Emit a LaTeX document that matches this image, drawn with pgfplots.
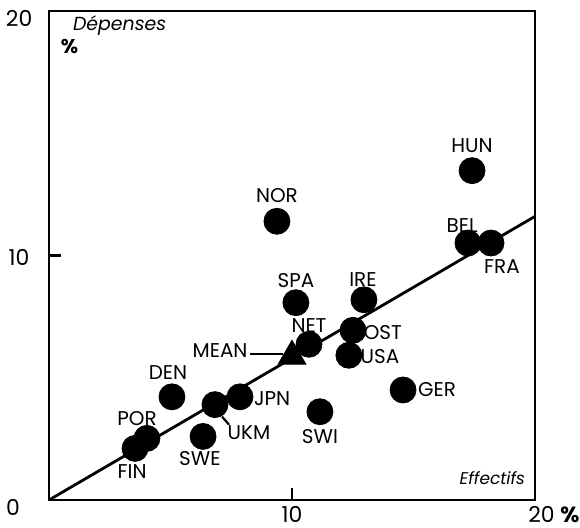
\documentclass[border=0pt]{standalone}
\usepackage{fontspec}
\setmainfont{Poppins}
\usepackage{pgfplots}
\pgfplotsset{compat=1.18}
\begin{document}
\begin{tikzpicture}
\begin{axis}[name=ax, scale only axis, width=243bp, height=244.5bp,
  xmin=0, xmax=20, ymin=0, ymax=20,
  xtick={10}, ytick={10}, xticklabels={}, yticklabels={},
  xtick pos=bottom, ytick pos=left,
  major tick length=6bp, tick align=inside,
  tick style={line width=1.1bp, black},
  axis line style={line width=1.3bp},
  clip=false,
  every node/.style={font=\fontsize{8.5}{10}\selectfont},
]
% regression line
\addplot[black, line width=1.4bp, no marks] coordinates {(0,0) (20,11.6)};
% countries
\addplot[only marks, mark=*, mark size=6.5bp, black] coordinates {
(3.54,2.11) (4.03,2.52) (5.06,4.22) (6.34,2.60) (6.83,3.90) (7.86,4.22)
(10.70,6.37) (10.16,8.07) (11.15,3.61) (12.96,8.19) (12.51,6.94) (12.34,5.92)
(14.57,4.50) (9.38,11.40) (17.41,13.47) (17.24,10.51) (18.19,10.51)
};
% mean
\addplot[only marks, mark=triangle*, mark size=8bp, black] coordinates {(10.0,5.88)};
% leader lines
\addplot[black, line width=1.1bp, no marks] coordinates {(8.27,5.96) (9.63,5.96)};
\addplot[black, line width=1.1bp, no marks] coordinates {(7.12,3.41) (7.41,3.08)};
% labels
\node at (axis cs:17.41,14.48) {HUN};
\node at (axis cs:9.38,12.45) {NOR};
\node at (axis cs:17.0,11.24) {BEL};
\node at (axis cs:18.64,9.53) {FRA};
\node at (axis cs:10.16,8.97) {SPA};
\node at (axis cs:12.92,9.01) {IRE};
\node at (axis cs:10.70,7.14) {NET};
\node at (axis cs:13.74,6.86) {OST};
\node at (axis cs:13.62,5.88) {USA};
\node at (axis cs:7.04,6.13) {MEAN};
\node at (axis cs:4.90,5.23) {DEN};
\node at (axis cs:9.18,4.14) {JPN};
\node at (axis cs:8.23,2.76) {UKM};
\node at (axis cs:11.15,2.60) {SWI};
\node at (axis cs:6.21,1.70) {SWE};
\node at (axis cs:3.62,3.33) {POR};
\node at (axis cs:3.42,1.18) {FIN};
\node at (axis cs:15.97,4.50) {GER};
% tick labels
\node[inner sep=0pt, font=\fontsize{11}{12}\selectfont] at (axis cs:-1.48,-0.32) {0};
\node[inner sep=0pt, font=\fontsize{11}{12}\selectfont] at (axis cs:10,-0.6) {10};
\node[inner sep=0pt, font=\fontsize{11}{12}\selectfont, anchor=east] at (axis cs:21.85,-0.6) {20 \textbf{\%}};
\node[inner sep=0pt, font=\fontsize{11}{12}\selectfont] at (axis cs:-1.23,9.9) {10};
\node[inner sep=0pt, font=\fontsize{11}{12}\selectfont] at (axis cs:-1.23,19.68) {20};
% axis titles
\node[anchor=west, font=\itshape\fontsize{9.5}{10}\selectfont] at (axis cs:0.7,19.39) {Dépenses};
\node[anchor=west, font=\bfseries\fontsize{10}{10}\selectfont] at (axis cs:0.2,18.55) {\%};
\node[anchor=east, font=\itshape\fontsize{8.5}{10}\selectfont] at (axis cs:19.88,0.89) {Effectifs};
\end{axis}
\pgfresetboundingbox
\path ([xshift=-24.5bp,yshift=-14bp]ax.south west) rectangle ([xshift=22.5bp,yshift=5.5bp]ax.north east);
\end{tikzpicture}
\end{document}
